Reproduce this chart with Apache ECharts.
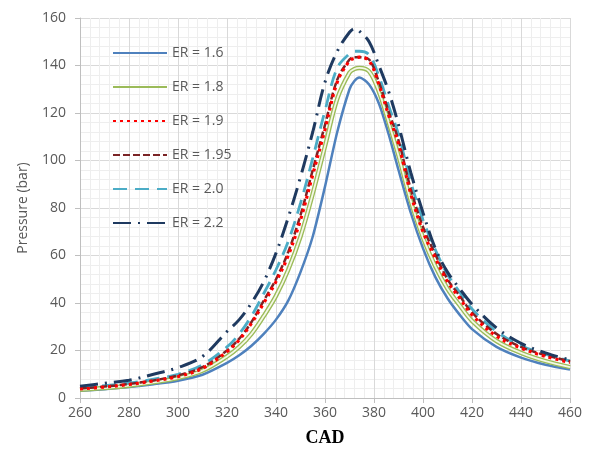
<!DOCTYPE html>
<html>
<head>
<meta charset="utf-8">
<script src="https://cdn.jsdelivr.net/npm/echarts@6/dist/echarts.min.js"></script>
<style>
html,body{margin:0;padding:0;background:#fff;}
#chart{width:590px;height:449px;}
</style>
</head>
<body>
<div id="chart"></div>
<script>
// Crank angle (CAD) sample positions
var cad = [260,270,280,290,300,310,320,325,330,335,340,345,350,355,360,365,370,372,374,378,382,386,390,395,400,405,410,415,420,430,440,450,460];

// Pressure (bar) per equivalence ratio
var er16  = [3,3.7,4.6,5.8,7.3,9.8,14.8,18,22,27,33,41,53,68,89,112,130,133.5,135,132,124,111,96,78,63,51,42,35,29,21.5,17,14,12];
var er18  = [3.5,4.2,5.2,6.6,8.4,11.5,17.5,21.5,27,34.5,43,54,68,86,106,126,137,138.5,139,137.5,129,116,102,83,67.5,55.5,46,39,32.5,24,19,15.5,13];
var er19  = [3.8,4.6,5.7,7.2,9,12.5,19.5,24.5,31.5,40,49,60,75,94,113,133,142,143,143.5,142,132,119,107,86,70,59,49,42,35,26,21,17.5,15];
var er195 = [4,4.8,5.9,7.4,9.5,13,20,25,32,41,50,61.5,77,96,115,134,142.5,143.5,143.5,142.5,133,120.5,108.5,88,72,60.5,50,43,36,27,21.5,18,15.5];
var er20  = [4.2,5.2,6.3,7.9,10,14,21.5,27,34.5,44,54,66,82,101,121,139,145,146,146,144.5,135.5,123,111,91,75,62.5,52,44.5,37.5,28,22,18.5,15.5];
var er22  = [5,6.2,7.5,10,12.8,17.5,28,33,40,49,61,76,93,112,133,146,154,155.5,154.5,150,140,129,115,95,78,63,53,46,39.5,29.5,23,19,16];

var names = ['ER = 1.6','ER = 1.8','ER = 1.9','ER = 1.95','ER = 2.0','ER = 2.2'];

function pairs(v){ return cad.map(function(x,i){ return [x, v[i]]; }); }

var chart = echarts.init(document.getElementById('chart'), null, {renderer:'canvas'});
var font = 'Open Sans';
var gray = '#595959';

function line(name, v, color, width, type, z, smooth){
  return {
    name: name, type: 'line', data: pairs(v), smooth: smooth == null ? 0.35 : smooth,
    symbol: 'none', showSymbol: false, z: z,
    lineStyle: {color: color, width: width, type: type},
    itemStyle: {color: color},
    emphasis: {disabled: true}
  };
}

var option = {
  animation: false,
  backgroundColor: '#fff',
  grid: {left: 80, right: 20, top: 18, bottom: 51, containLabel: false, outerBoundsMode: 'none'},
  legend: {
    orient: 'vertical', left: 107, top: 41,
    itemWidth: 54, itemHeight: 14, itemGap: 20,
    data: names,
    itemStyle: {opacity: 0},
    textStyle: {fontFamily: font, fontSize: 14, color: gray},
    selectedMode: false
  },
  xAxis: {
    type: 'value', min: 260, max: 460, interval: 20,
    name: 'CAD', nameLocation: 'middle', nameGap: 31,
    nameTextStyle: {fontFamily: 'Liberation Serif', fontWeight: 'bold', fontSize: 18, color: '#000'},
    axisLine: {show: true, lineStyle: {color: '#BFBFBF', width: 1}},
    axisTick: {show: true, length: 5, lineStyle: {color: '#BFBFBF'}},
    axisLabel: {fontFamily: font, fontSize: 14, color: gray, margin: 8},
    splitLine: {show: true, lineStyle: {color: '#D9D9D9', width: 1}},
    minorTick: {show: false, splitNumber: 5},
    minorSplitLine: {show: true, lineStyle: {color: '#EEEEEE', width: 1}}
  },
  yAxis: {
    type: 'value', min: 0, max: 160, interval: 20,
    name: 'Pressure (bar)', nameLocation: 'middle', nameGap: 50,
    nameTextStyle: {fontFamily: font, fontSize: 14, color: gray},
    axisLine: {show: true, lineStyle: {color: '#BFBFBF', width: 1}},
    axisTick: {show: true, length: 5, lineStyle: {color: '#BFBFBF'}},
    axisLabel: {fontFamily: font, fontSize: 14, color: gray, margin: 14},
    splitLine: {show: true, lineStyle: {color: '#D9D9D9', width: 1}},
    minorTick: {show: false, splitNumber: 5},
    minorSplitLine: {show: true, lineStyle: {color: '#EEEEEE', width: 1}}
  },
  series: [
    line(names[0], er16, '#4F81BD', 2.5, 'solid', 2, 0.25),
    line(names[1], er18, '#9BBB59', 4.5, 'solid', 3),
    line(names[1], er18, '#F4F8E6', 1.8, 'solid', 4),
    line(names[4], er20, '#4BACC6', 2.8, [14, 8], 5),
    line(names[3], er195, '#7B2426', 2.5, [7, 3], 6),
    line(names[2], er19, '#FF0000', 3.2, [3, 4], 7),
    line(names[5], er22, '#1F3A60', 3, [18, 7, 2, 7], 8)
  ]
};
chart.setOption(option);
</script>
</body>
</html>
